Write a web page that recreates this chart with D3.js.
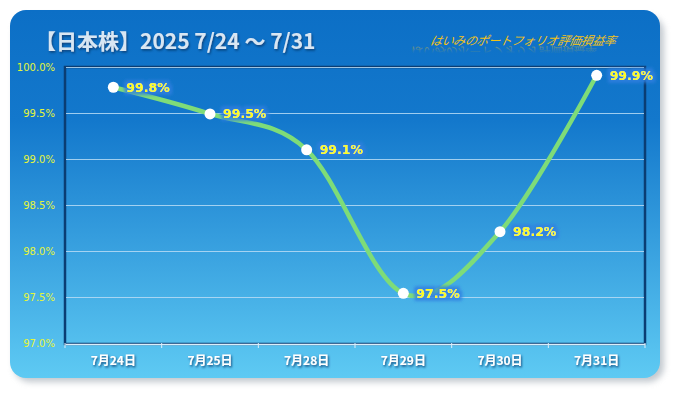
<!DOCTYPE html>
<html><head><meta charset="utf-8">
<script src="https://cdn.jsdelivr.net/npm/d3@7"></script>
<style>body{margin:0;background:#fff;}svg{display:block;}</style>
</head><body>
<svg id="c" width="675" height="393"></svg>
<script>
const categories = ["7月24日","7月25日","7月28日","7月29日","7月30日","7月31日"];
const values = [99.78, 99.49, 99.1, 97.54, 98.21, 99.91];
const valueLabels = ["99.8%","99.5%","99.1%","97.5%","98.2%","99.9%"];
const yTicks = [97.0, 97.5, 98.0, 98.5, 99.0, 99.5, 100.0];
const titleText = "【日本株】2025 7/24 ～ 7/31";
const subtitleText = "はいみのポートフォリオ評価損益率";

const svg = d3.select("#c");
const defs = svg.append("defs");
const bg = defs.append("linearGradient").attr("id","bg").attr("x1",0).attr("y1",0).attr("x2",0).attr("y2",1);
bg.append("stop").attr("offset","0%").attr("stop-color","#0c6fc6");
bg.append("stop").attr("offset","30%").attr("stop-color","#1378cc");
bg.append("stop").attr("offset","100%").attr("stop-color","#5ecaf3");
const rg = defs.append("linearGradient").attr("id","rg").attr("x1",0).attr("y1",0).attr("x2",0).attr("y2",1);
rg.append("stop").attr("offset","0%").attr("stop-color","#f2c218").attr("stop-opacity",0);
rg.append("stop").attr("offset","45%").attr("stop-color","#f2c218").attr("stop-opacity",0);
rg.append("stop").attr("offset","100%").attr("stop-color","#f2c218").attr("stop-opacity",0.55);
const sh = defs.append("filter").attr("id","sh").attr("x","-10%").attr("y","-10%").attr("width","130%").attr("height","130%");
sh.append("feGaussianBlur").attr("stdDeviation",3);
const ts = defs.append("filter").attr("id","ts").attr("x","-10%").attr("y","-30%").attr("width","120%").attr("height","160%");
ts.append("feDropShadow").attr("dx",1).attr("dy",1.5).attr("stdDeviation",1.2).attr("flood-color","#0a3a70").attr("flood-opacity",0.9);
const glow = defs.append("filter").attr("id","glow").attr("x","-20%").attr("y","-40%").attr("width","140%").attr("height","180%");
glow.append("feMorphology").attr("in","SourceAlpha").attr("operator","dilate").attr("radius",2.5).attr("result","d");
glow.append("feGaussianBlur").attr("in","d").attr("stdDeviation",1.5).attr("result","b");
glow.append("feFlood").attr("flood-color","#2f7fe0").attr("flood-opacity",0.8);
glow.append("feComposite").attr("in2","b").attr("operator","in").attr("result","g");
const gm = glow.append("feMerge"); gm.append("feMergeNode").attr("in","g"); gm.append("feMergeNode").attr("in","SourceGraphic");

// outer shadow + box
svg.append("rect").attr("x",14).attr("y",16).attr("width",650).attr("height",366).attr("rx",16)
  .attr("fill","#9aa4ae").attr("opacity",0.6).attr("filter","url(#sh)");
svg.append("rect").attr("x",10).attr("y",10).attr("width",650).attr("height",368).attr("rx",16).attr("fill","url(#bg)");

const m = {l:65, r:645, t:67, b:344};
const x = d3.scaleBand().domain(categories).range([m.l, m.r]);
const y = d3.scaleLinear().domain([97,100]).range([m.b-1, m.t]);

// plot frame
svg.append("rect").attr("x",m.l).attr("y",m.t).attr("width",m.r-m.l).attr("height",m.b-m.t)
  .attr("fill","none").attr("stroke","#0a3d73").attr("stroke-width",2.5);

// grid
svg.append("g").selectAll("line").data(yTicks.filter(d=>d>97)).join("line")
  .attr("x1",m.l+1).attr("x2",m.r-1).attr("y1",d=>Math.round(y(d))+0.5).attr("y2",d=>Math.round(y(d))+0.5)
  .attr("stroke","#b8dcf5").attr("stroke-opacity",0.85).attr("stroke-width",1);

// y axis labels
const yAxis = d3.axisLeft(y).tickValues(yTicks).tickFormat(d=>d.toFixed(1)+"%").tickSize(0).tickPadding(10);
const ga = svg.append("g").attr("transform",`translate(${m.l},0)`).call(yAxis);
ga.select(".domain").remove();
ga.selectAll("text").attr("fill","#e4f53a").attr("font-family","Verdana, 'DejaVu Sans', sans-serif").attr("font-size",10);

// x axis
const xAxis = d3.axisBottom(x).tickSize(0).tickPadding(12);
const gx = svg.append("g").attr("transform",`translate(0,${m.b})`).call(xAxis);
gx.select(".domain").attr("stroke","#dbeefa").attr("stroke-width",1.5);
gx.selectAll("text").attr("fill","#ffffff").attr("font-weight","bold").attr("font-size",12)
  .attr("font-family","'Noto Sans CJK JP', sans-serif").attr("filter","url(#ts)");
svg.append("g").selectAll("line").data(categories.map((c,i)=>i).concat([categories.length])).join("line")
  .attr("x1",i=>i<categories.length? x(categories[i]) : x.range()[1])
  .attr("x2",i=>i<categories.length? x(categories[i]) : x.range()[1])
  .attr("y1",m.b-1).attr("y2",m.b+4).attr("stroke","#dbeefa").attr("stroke-width",1);

// line
const line = d3.line().x((d,i)=>x(categories[i])+x.bandwidth()/2).y(d=>y(d)).curve(d3.curveCardinal.tension(0));
svg.append("path").datum(values).attr("d",line).attr("fill","none").attr("stroke","#7edc78").attr("stroke-width",4.5);

// points
svg.append("g").selectAll("circle").data(values).join("circle")
  .attr("cx",(d,i)=>x(categories[i])+x.bandwidth()/2).attr("cy",d=>y(d)).attr("r",5.5).attr("fill","#ffffff");

// labels
svg.append("g").selectAll("text").data(values).join("text")
  .attr("x",(d,i)=>x(categories[i])+x.bandwidth()/2+13).attr("y",d=>y(d)+4.5)
  .attr("fill","#ffff1a").attr("font-weight","bold").attr("font-size",12.5)
  .attr("font-family","Verdana, 'DejaVu Sans', sans-serif").attr("filter","url(#glow)")
  .text((d,i)=>valueLabels[i]);

// title
svg.append("text").attr("x",35).attr("y",49).attr("fill","#d8e6f3").attr("font-weight","bold").attr("font-size",21)
  .attr("font-family","'Noto Sans CJK JP', sans-serif").attr("filter","url(#ts)").text(titleText);

// subtitle with reflection
const sub = svg.append("g");
sub.append("text").attr("x",430).attr("y",45).attr("fill","#f2c218").attr("font-style","italic").attr("font-size",12)
  .attr("letter-spacing",-0.4)
  .attr("font-family","'Noto Sans CJK JP', sans-serif").attr("transform","skewX(-12) translate(9,0)").text(subtitleText);
sub.append("text").attr("x",430).attr("y",-47).attr("fill","url(#rg)").attr("font-style","italic").attr("font-size",12)
  .attr("letter-spacing",-0.4)
  .attr("font-family","'Noto Sans CJK JP', sans-serif").attr("transform","scale(1,-1) skewX(12) translate(-9,0)").text(subtitleText);
</script>
</body></html>
